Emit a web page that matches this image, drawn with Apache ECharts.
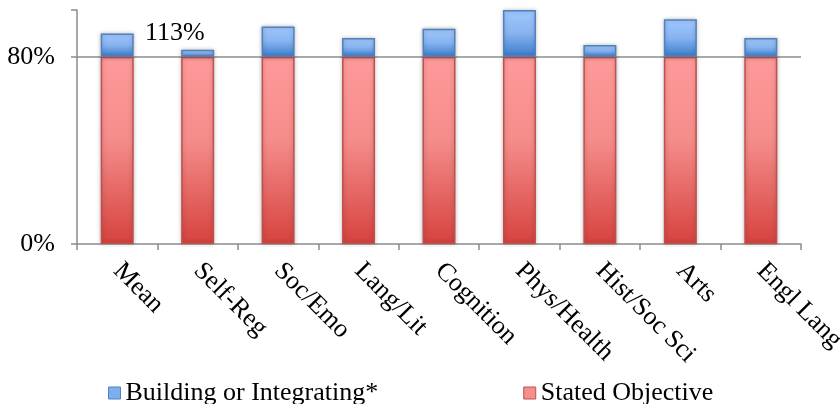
<!DOCTYPE html>
<html>
<head>
<meta charset="utf-8">
<script src="https://cdn.jsdelivr.net/npm/echarts@6/dist/echarts.min.js"></script>
<style>
  html, body { margin: 0; padding: 0; background: #fff; }
  #chart { width: 840px; height: 404px; }
</style>
</head>
<body>
<div id="chart"></div>
<script>
// Domains along the x axis
const categories = ['Mean', 'Self-Reg', 'Soc/Emo', 'Lang/Lit', 'Cognition', 'Phys/Health', 'Hist/Soc Sci', 'Arts', 'Engl Lang'];
// Share of stated objectives (%)
const statedObjective = [80, 80, 80, 80, 80, 80, 80, 80, 80];
// Additional share building on or integrating (%), stacked on top
const buildingOrIntegrating = [10, 3, 13, 8, 12, 20, 5, 16, 8];
// Value-axis ticks that carry a label
const yTickLabels = [0, 80];
const annotationText = '113%';

const serif = '"Liberation Serif", "Times New Roman", serif';
const axisGray = '#8c8c8c';

const chart = echarts.init(document.getElementById('chart'));

const redFill = new echarts.graphic.LinearGradient(0, 0, 0, 1, [
  { offset: 0, color: '#ff9a9a' },
  { offset: 0.45, color: '#f48c8a' },
  { offset: 1, color: '#d6423e' }
]);
const blueFill = new echarts.graphic.LinearGradient(0, 0, 0, 1, [
  { offset: 0, color: '#a2c8ff' },
  { offset: 0.5, color: '#86b3f0' },
  { offset: 1, color: '#3b7dcc' }
]);

chart.setOption({
  animation: false,
  textStyle: { fontFamily: serif },
  grid: { left: 77, right: 39, top: 10, bottom: 160, outerBoundsMode: 'none', containLabel: false },
  legend: {
    left: 108,
    top: 380,
    padding: 0,
    itemWidth: 12,
    itemHeight: 12,
    itemGap: 145,
    icon: 'rect',
    textStyle: { fontFamily: serif, fontSize: 26, color: '#000' },
    data: [
      { name: 'Building or Integrating*', itemStyle: { color: '#7eaef0', borderColor: '#4f81bd', borderWidth: 1 } },
      { name: 'Stated Objective', itemStyle: { color: '#f58e8c', borderColor: '#c0504d', borderWidth: 1 } }
    ]
  },
  xAxis: {
    type: 'category',
    data: categories,
    boundaryGap: true,
    axisLine: { show: true, lineStyle: { color: axisGray, width: 1.5 } },
    axisTick: { show: true, length: 6, lineStyle: { color: axisGray, width: 1.5 } },
    axisLabel: {
      rotate: -45,
      margin: 23,
      interval: 0,
      padding: [0, 0, 8, 0],
      fontFamily: serif,
      fontSize: 26,
      color: '#000'
    }
  },
  yAxis: {
    type: 'value',
    min: 0,
    max: 100,
    interval: 80,
    axisLine: { show: true, lineStyle: { color: axisGray, width: 1.5 } },
    axisTick: { show: true, length: 6, lineStyle: { color: axisGray, width: 1.5 } },
    splitLine: { show: true, showMinLine: false, showMaxLine: false, lineStyle: { color: axisGray, width: 1.5 } },
    axisLabel: {
      margin: 22,
      fontFamily: serif,
      fontSize: 26,
      color: '#000',
      formatter: v => (yTickLabels.indexOf(v) >= 0 ? v + '%' : '')
    }
  },
  series: [
    {
      name: 'Stated Objective',
      type: 'bar',
      stack: 'total',
      barWidth: 33,
      data: statedObjective,
      itemStyle: {
        color: redFill,
        borderColor: '#c0504d',
        borderWidth: 1.5,
        shadowColor: 'rgba(0,0,0,0.25)',
        shadowBlur: 4
      },
      z: 3
    },
    {
      name: 'Building or Integrating*',
      type: 'bar',
      stack: 'total',
      barWidth: 33,
      data: buildingOrIntegrating,
      itemStyle: {
        color: blueFill,
        borderColor: '#4f81bd',
        borderWidth: 1.5,
        shadowColor: 'rgba(0,0,0,0.25)',
        shadowBlur: 4
      },
      z: 3
    }
  ],
  graphic: [
    {
      type: 'text',
      left: 145,
      top: 20,
      style: { text: annotationText, fontFamily: serif, fontSize: 26, fill: '#000' }
    }
  ]
});
</script>
</body>
</html>
